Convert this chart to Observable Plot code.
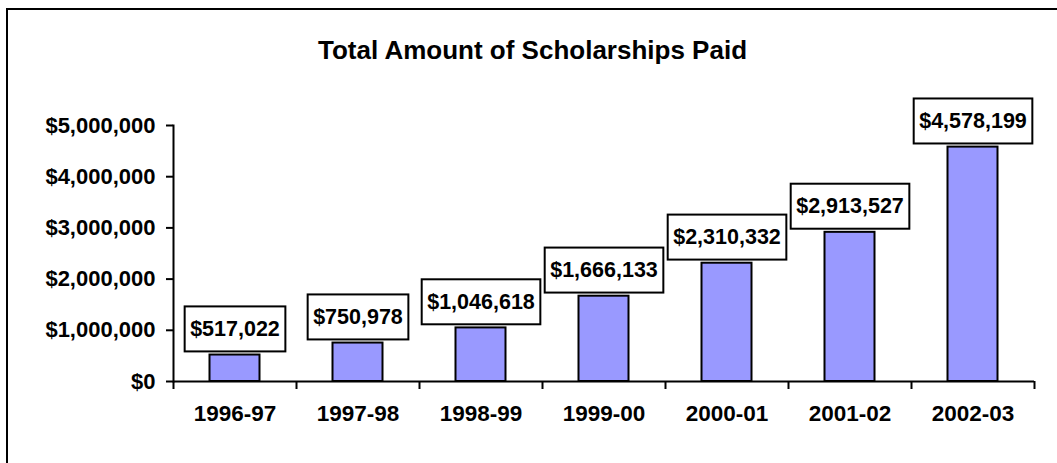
<!DOCTYPE html>
<html><head><meta charset="utf-8">
<script src="https://cdn.jsdelivr.net/npm/d3@7"></script>
<script src="https://cdn.jsdelivr.net/npm/@observablehq/plot@0.6"></script>
<style>
body{margin:0;background:#fff;overflow:hidden;}
#wrap{position:relative;width:1057px;height:463px;overflow:hidden;}
#frame{position:absolute;left:6px;top:8px;width:1120px;height:520px;border:2px solid #000;box-sizing:border-box;}
#title{position:absolute;left:0;width:1065px;top:35px;text-align:center;font:bold 26px "Liberation Sans",Arial,sans-serif;color:#000;}
#chart{position:absolute;left:0;top:0;}
</style>
</head><body>
<div id="wrap"><div id="frame"></div><div id="title">Total Amount of Scholarships Paid</div><div id="chart"></div></div>
<script>
const years = ["1996-97","1997-98","1998-99","1999-00","2000-01","2001-02","2002-03"];
const amounts = [517022, 750978, 1046618, 1666133, 2310332, 2913527, 4578199];
const yTicks = [0, 1000000, 2000000, 3000000, 4000000, 5000000];
const yTickLabels = ["$0","$1,000,000","$2,000,000","$3,000,000","$4,000,000","$5,000,000"];

const data = years.map((y, i) => ({year: y, amount: amounts[i]}));
const fmt = d3.format("$,.0f");
const W = 1057, H = 463, ML = 173, MR = 23;
const halfStep = (W - ML - MR) / years.length / 2;

const chart = Plot.plot({
  width: W, height: H,
  marginLeft: ML, marginRight: MR, marginTop: 125, marginBottom: 82,
  style: {fontFamily: '"Liberation Sans", Arial, sans-serif', fontSize: "22px", fontWeight: "bold", color: "#000", background: "transparent", overflow: "visible"},
  x: {domain: years, padding: 0},
  y: {domain: [0, 5000000]},
  marks: [
    Plot.barY(data, {x: "year", y: "amount", fill: "#9999ff", stroke: "#000", strokeWidth: 2, insetLeft: 36.5, insetRight: 36.5}),
    Plot.ruleY([0], {stroke: "#000", strokeWidth: 2}),
    Plot.frame({anchor: "left", stroke: "#000", strokeWidth: 2}),
    Plot.axisY({ticks: yTicks, tickFormat: (d) => yTickLabels[yTicks.indexOf(d)], tickSize: 7, tickPadding: 11, strokeWidth: 2, label: null, fill: "#000", fontSize: 22}),
    Plot.axisX({tickSize: 0, tickPadding: 24, label: null, fill: "#000", fontSize: 22.5}),
    Plot.axisX({ticks: years, tickSize: 8, tickFormat: () => "", dx: -halfStep, strokeWidth: 2, label: null}),
    Plot.axisX({ticks: [years[years.length - 1]], tickSize: 8, tickFormat: () => "", dx: halfStep, strokeWidth: 2, label: null}),
    Plot.text(data, {x: "year", y: "amount", text: d => fmt(d.amount), dy: -26, lineAnchor: "middle", fill: "#000", fontSize: 21.5, className: "vlabel"})
  ]
});
document.getElementById("chart").appendChild(chart);

// white boxes with black borders behind the data labels
const svgNS = "http://www.w3.org/2000/svg";
chart.querySelectorAll("g.vlabel text").forEach(t => {
  const b = t.getBBox();
  const cy = b.y + b.height / 2;
  const r = document.createElementNS(svgNS, "rect");
  r.setAttribute("x", b.x - 5.5);
  r.setAttribute("width", b.width + 11);
  r.setAttribute("y", cy - 22.5);
  r.setAttribute("height", 45);
  r.setAttribute("fill", "#fff");
  r.setAttribute("stroke", "#000");
  r.setAttribute("stroke-width", 2);
  if (t.getAttribute("transform")) r.setAttribute("transform", t.getAttribute("transform"));
  t.parentNode.insertBefore(r, t);
});
</script>
</body></html>
